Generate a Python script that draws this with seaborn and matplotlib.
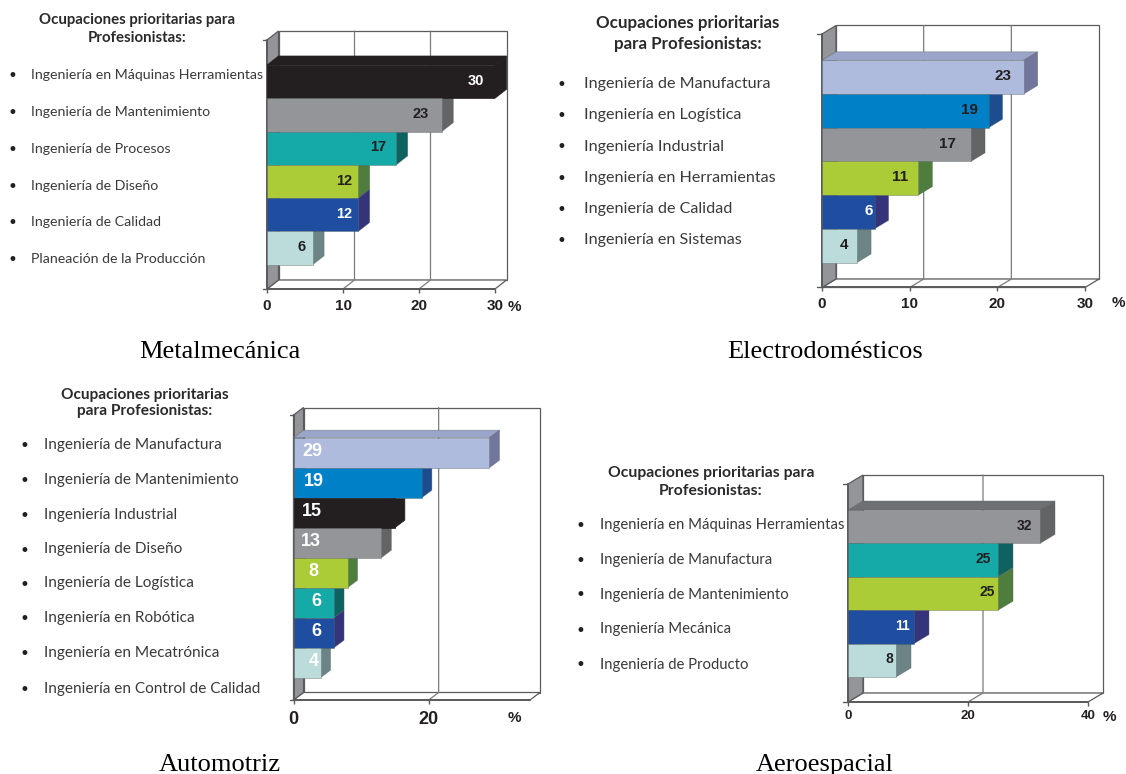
import matplotlib
matplotlib.use("Agg")
import matplotlib.pyplot as plt
import pandas as pd
import seaborn as sns
from matplotlib.patches import Polygon

W, H = 1126, 774

BLACK = ("#231F20", "#231F20", "#231F20")
GRAY = ("#939598", "#636466", "#6F7074")
TEAL = ("#15A9A7", "#0E625F", "#0E625F")
LIME = ("#ABCB37", "#4E7D3E", "#4E7D3E")
BLUE = ("#1F4EA1", "#35347A", "#35347A")
PALE = ("#BCDCDC", "#6C8485", "#6C8485")
LAV = ("#AEBBDD", "#72769C", "#9AA5C9")
COBALT = ("#0080C6", "#1D4D8F", "#1D4D8F")

# ---- data ----
metal_names = ["Ingeniería en Máquinas Herramientas", "Ingeniería de Mantenimiento",
               "Ingeniería de Procesos", "Ingeniería de Diseño", "Ingeniería de Calidad",
               "Planeación de la Producción"]
metal_values = [30, 23, 17, 12, 12, 6]
metal_colors = [BLACK, GRAY, TEAL, LIME, BLUE, PALE]
metal_text = ["white", "#231F20", "#231F20", "#231F20", "white", "#231F20"]

electro_names = ["Ingeniería de Manufactura", "Ingeniería en Logística", "Ingeniería Industrial",
                 "Ingeniería en Herramientas", "Ingeniería de Calidad", "Ingeniería en Sistemas"]
electro_values = [23, 19, 17, 11, 6, 4]
electro_colors = [LAV, COBALT, GRAY, LIME, BLUE, PALE]
electro_text = ["#231F20", "#231F20", "#231F20", "#231F20", "white", "#231F20"]

auto_names = ["Ingeniería de Manufactura", "Ingeniería de Mantenimiento", "Ingeniería Industrial",
              "Ingeniería de Diseño", "Ingeniería de Logística", "Ingeniería en Robótica",
              "Ingeniería en Mecatrónica", "Ingeniería en Control de Calidad"]
auto_values = [29, 19, 15, 13, 8, 6, 6, 4]
auto_colors = [LAV, COBALT, BLACK, GRAY, LIME, TEAL, BLUE, PALE]
auto_text = ["white"] * 8

aero_names = ["Ingeniería en Máquinas Herramientas", "Ingeniería de Manufactura",
              "Ingeniería de Mantenimiento", "Ingeniería Mecánica", "Ingeniería de Producto"]
aero_values = [32, 25, 25, 11, 8]
aero_colors = [GRAY, TEAL, LIME, BLUE, PALE]
aero_text = ["#231F20", "#231F20", "#231F20", "white", "#231F20"]

header_a = ["Ocupaciones prioritarias para", "Profesionistas:"]
header_b = ["Ocupaciones prioritarias", "para Profesionistas:"]

# ---- layout (pixels) ----
panels = [
    dict(names=metal_names, values=metal_values, colors=metal_colors, tcol=metal_text,
         ticks=[0, 10, 20, 30], vmax=30, x0=267, x1=495, yt=40, yb=289, bar_top=65, bh=33.3,
         dx=11.5, dy=9, lab_x=31, bul_x=12, lab_y=[75, 112, 149, 186, 222, 259],
         val_px=[476, 421, 378, 344, 344, 302], val_fs=10.5, lab_fs=10.15,
         head=header_a, head_x=137, head_y=[20, 38], head_fs=10.85,
         tick_fs=11, tick_pad=4, pct=(514, 307), cap="Metalmecánica", cap_xy=(220, 352)),
    dict(names=electro_names, values=electro_values, colors=electro_colors, tcol=electro_text,
         ticks=[0, 10, 20, 30], vmax=30, x0=822, x1=1085, yt=34, yb=287.5, bar_top=60.3, bh=33.7,
         dx=14, dy=8.5, lab_x=584, bul_x=561, lab_y=[84, 115, 146.5, 178, 209, 240],
         val_px=[1003, 970, 947, 900, 869, 844], val_fs=11, lab_fs=11.6,
         head=header_b, head_x=688, head_y=[23, 44], head_fs=12.2,
         tick_fs=11, tick_pad=4, pct=(1118, 303), cap="Electrodomésticos", cap_xy=(825, 352)),
    dict(names=auto_names, values=auto_values, colors=auto_colors, tcol=auto_text,
         ticks=[0, 20], vmax=35, x0=293.5, x1=530, yt=415, yb=700, bar_top=437.7, bh=30,
         dx=10, dy=7.5, lab_x=44, bul_x=24, lab_y=[445, 480, 515, 549.5, 583.5, 618, 653, 689],
         val_px=[312, 314, 312, 311, 313, 316, 316, 314], val_fs=13, lab_fs=11.07,
         head=header_b, head_x=145, head_y=[395, 411], head_fs=11.1,
         tick_fs=13, tick_pad=5, pct=(514, 718), cap="Automotriz", cap_xy=(220, 765)),
    dict(names=aero_names, values=aero_values, colors=aero_colors, tcol=aero_text,
         ticks=[0, 20, 40], vmax=40, x0=848, x1=1088, yt=484, yb=702, bar_top=510, bh=33.4,
         dx=15, dy=9, lab_x=600, bul_x=580, lab_y=[525, 560, 594.5, 629.5, 664.5],
         val_px=[1024, 983, 987, 902, 889], val_fs=10, lab_fs=10.7,
         head=header_a, head_x=711, head_y=[473, 491], head_fs=11.3,
         tick_fs=9.5, tick_pad=3, pct=(1109, 717), cap="Aeroespacial", cap_xy=(825, 765)),
]

sns.set_theme(style="white", rc={"axes.facecolor": "none"})
plt.rcParams["font.family"] = ["Lato", "DejaVu Sans"]
fig = plt.figure(figsize=(W / 100, H / 100), dpi=100, facecolor="white")

LINE = "#5A5B5D"
WALL = "#939598"
TXT = "#3A3A3C"
BOLD = "Liberation Sans"
EDGE = "#55606088"


def fx(p):
    return p / W


def fy(p):
    return 1 - p / H


for P in panels:
    ax = fig.add_axes([fx(P["x0"]), fy(P["yb"]), (P["x1"] - P["x0"]) / W, (P["yb"] - P["yt"]) / H])
    df = pd.DataFrame({"occ": P["names"], "val": P["values"]})
    sns.barplot(data=df, x="val", y="occ", hue="occ", order=P["names"], hue_order=P["names"],
                palette=[c[0] for c in P["colors"]], legend=False, width=1, saturation=1,
                orient="h", ax=ax, edgecolor=EDGE, linewidth=0.5)
    for patch in ax.patches:
        if matplotlib.colors.to_hex(patch.get_facecolor()) == BLACK[0].lower():
            patch.set_edgecolor(BLACK[0])
    ax.set_xlim(0, P["vmax"])
    ytop = (P["yt"] - P["bar_top"]) / P["bh"] - 0.5
    ybot = (P["yb"] - P["bar_top"]) / P["bh"] - 0.5
    ax.set_ylim(ybot, ytop)
    sx = P["vmax"] / (P["x1"] - P["x0"])  # data units per pixel in x
    ddx = P["dx"] * sx
    ddy = P["dy"] / P["bh"]
    for s in ax.spines.values():
        s.set_visible(False)
    ax.set(xlabel="", ylabel="", yticks=[])
    ax.set_xticks(P["ticks"])
    ax.tick_params(axis="x", bottom=True, length=3, width=1, color=LINE, pad=P["tick_pad"],
                   labelsize=P["tick_fs"], labelcolor="#231F20")
    for t in ax.get_xticklabels():
        t.set_family(BOLD)
        t.set_fontweight("bold")

    def poly(pts, fc, ec=LINE, z=0.3, lw=0.9):
        ax.add_patch(Polygon(pts, closed=True, facecolor=fc, edgecolor=ec, linewidth=lw,
                             zorder=z, clip_on=False))

    vm = P["vmax"]
    # back wall, floor, left wall
    poly([(ddx, ytop - ddy), (vm + ddx, ytop - ddy), (vm + ddx, ybot - ddy), (ddx, ybot - ddy)], "white", z=0.1)
    poly([(0, ybot), (vm, ybot), (vm + ddx, ybot - ddy), (ddx, ybot - ddy)], "white", z=0.15)
    poly([(0, ytop), (ddx, ytop - ddy), (ddx, ybot - ddy), (0, ybot)], WALL, z=0.2)
    for t in P["ticks"][1:]:
        if t < vm:
            ax.plot([t + ddx, t + ddx, t], [ytop - ddy, ybot - ddy, ybot], color="#7A7B7D",
                    lw=0.9, zorder=0.25, clip_on=False)
    ax.plot([0, vm], [ybot, ybot], color=LINE, lw=1.4, zorder=0.3, clip_on=False)
    ax.plot([0, 0], [ytop, ybot], color=LINE, lw=1.4, zorder=0.3, clip_on=False)
    ax.plot([-0.35 * ddx, 0], [ytop, ytop], color=LINE, lw=1, zorder=0.3, clip_on=False)
    ax.plot([-0.35 * ddx, 0], [ybot, ybot], color=LINE, lw=1, zorder=0.3, clip_on=False)

    # depth faces, from the bars' own values
    v0 = P["values"][0]
    c0 = P["colors"][0]
    ec0 = BLACK[0] if c0 is BLACK else EDGE
    poly([(0, -0.5), (v0, -0.5), (v0 + ddx, -0.5 - ddy), (ddx, -0.5 - ddy)], c0[2], ec=ec0, z=0.5, lw=0.5)
    for i, (v, c) in enumerate(zip(P["values"], P["colors"])):
        poly([(v, i - 0.5), (v + ddx, i - 0.5 - ddy), (v + ddx, i + 0.5 - ddy), (v, i + 0.5)],
             c[1], ec=BLACK[0] if c is BLACK else EDGE, z=0.5 + i * 0.01, lw=0.5)

    # values on bars
    for i, (px, col, v) in enumerate(zip(P["val_px"], P["tcol"], P["values"])):
        fig.text(fx(px), fy(P["bar_top"] + (i + 0.5) * P["bh"] - 1), str(v), ha="center", va="center",
                 family=BOLD, fontweight="bold", fontsize=P["val_fs"], color=col, zorder=5)

    # bulleted list
    for y, name in zip(P["lab_y"], P["names"]):
        fig.text(fx(P["lab_x"]), fy(y), name, ha="left", va="center", fontsize=P["lab_fs"], color=TXT)
        fig.text(fx(P["bul_x"]), fy(y + 1), "•", ha="center", va="center", fontsize=12, color="#231F20",
                 family="DejaVu Sans")
    # header
    for y, line in zip(P["head_y"], P["head"]):
        fig.text(fx(P["head_x"]), fy(y), line, ha="center", va="center", fontsize=P["head_fs"],
                 fontweight="bold", color="#2A2A2C")
    fig.text(fx(P["pct"][0]), fy(P["pct"][1]), "%", ha="center", va="center", family=BOLD,
             fontweight="bold", fontsize=11, color="#231F20")
    fig.text(fx(P["cap_xy"][0]), fy(P["cap_xy"][1]), P["cap"], ha="center", va="center",
             family="Liberation Serif", fontsize=19, color="black")

fig.savefig("out.png", dpi=100)
